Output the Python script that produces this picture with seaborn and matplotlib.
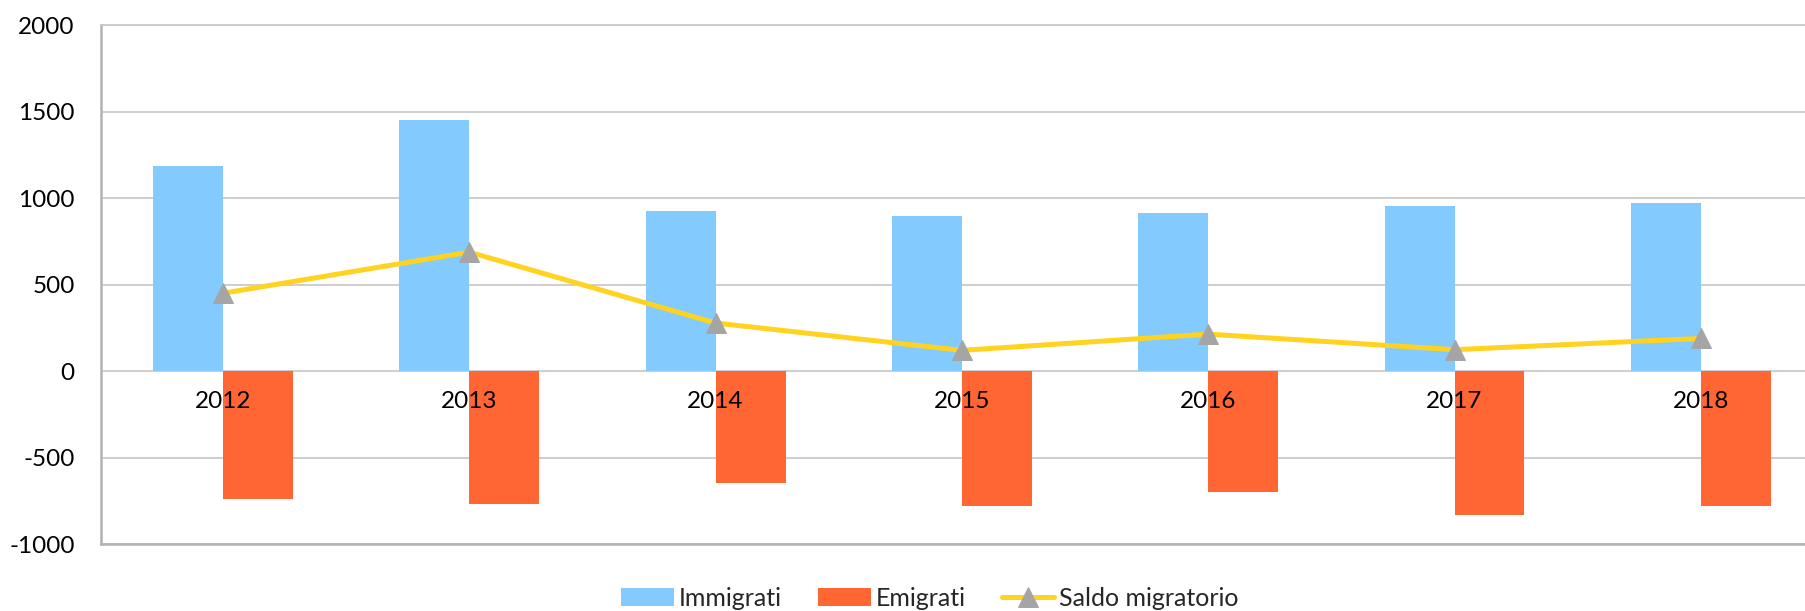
import matplotlib
matplotlib.use("Agg")
import matplotlib.pyplot as plt
import seaborn as sns
import pandas as pd
import numpy as np

# ---- data ----
years = ["2012", "2013", "2014", "2015", "2016", "2017", "2018"]
immigrati = [1188, 1454, 925, 900, 915, 958, 971]
emigrati = [-737, -765, -646, -779, -700, -833, -781]
saldo = [451, 689, 279, 121, 215, 125, 190]
series_names = ["Immigrati", "Emigrati", "Saldo migratorio"]
y_ticks = [-1000, -500, 0, 500, 1000, 1500, 2000]

c_imm = "#83CAFF"
c_emi = "#FF6633"
c_line = "#FFD320"
c_marker = "#A5A5A5"
c_grid = "#C6C6C6"
c_axis = "#B3B3B3"

sns.set_theme(style="white")
plt.rcParams["font.family"] = ["Lato", "DejaVu Sans"]

df = pd.DataFrame({
    "anno": years * 2,
    "valore": immigrati + emigrati,
    "serie": [series_names[0]] * len(years) + [series_names[1]] * len(years),
})

fig = plt.figure(figsize=(18.06, 6.11), dpi=100)
ax = fig.add_axes([101 / 1806, 1 - 544.3 / 611, 1 - 101 / 1806, (544.3 - 25.3) / 611])

sns.barplot(data=df, x="anno", y="valore", hue="serie", order=years,
            hue_order=series_names[:2], palette=[c_imm, c_emi],
            width=0.568, gap=0, linewidth=0, saturation=1, ax=ax, zorder=2)

sns.lineplot(x=np.arange(len(years)), y=saldo, color=c_line, linewidth=3.6,
             marker="^", markersize=14, markerfacecolor=c_marker,
             markeredgecolor=c_marker, label=series_names[2], ax=ax, zorder=4)

ax.set_ylim(-1000, 2000)
ax.set_xlim(-0.495, 6.427)
ax.set_yticks(y_ticks)
ax.set_yticklabels([str(v) for v in y_ticks])
ax.tick_params(axis="y", length=0, pad=19, labelsize=17.5, labelcolor="black")
ax.set_xticks([])
ax.set_xlabel("")
ax.set_ylabel("")

ax.yaxis.grid(True, color=c_grid, linewidth=1.2, zorder=0)
ax.set_axisbelow(True)
ax.spines["right"].set_visible(False)
ax.spines["top"].set_color(c_grid)
ax.spines["top"].set_linewidth(1.2)
ax.spines["left"].set_color(c_axis)
ax.spines["left"].set_linewidth(1.8)
ax.spines["bottom"].set_color(c_axis)
ax.spines["bottom"].set_linewidth(1.8)

# category labels just below the zero line
sec = ax.secondary_xaxis(1 / 3)
sec.set_xticks(range(len(years)))
sec.set_xticklabels(years)
sec.tick_params(axis="x", length=0, pad=14, labelsize=17.5, labelcolor="black")
sec.spines["bottom"].set_visible(False)
sec.spines["top"].set_visible(False)
sec.set_zorder(6)

handles, labels = ax.get_legend_handles_labels()
if ax.get_legend() is not None:
    ax.get_legend().remove()
order = [labels.index(n) for n in series_names]
leg = fig.legend([handles[i] for i in order], [labels[i] for i in order],
                 loc="center", bbox_to_anchor=(930 / 1806, 1 - 598 / 611),
                 ncol=3, frameon=False, fontsize=18, handlelength=2.1,
                 handleheight=0.7, handletextpad=0.2, columnspacing=1.45,
                 borderpad=0, borderaxespad=0)

fig.savefig("out.png", dpi=100)
